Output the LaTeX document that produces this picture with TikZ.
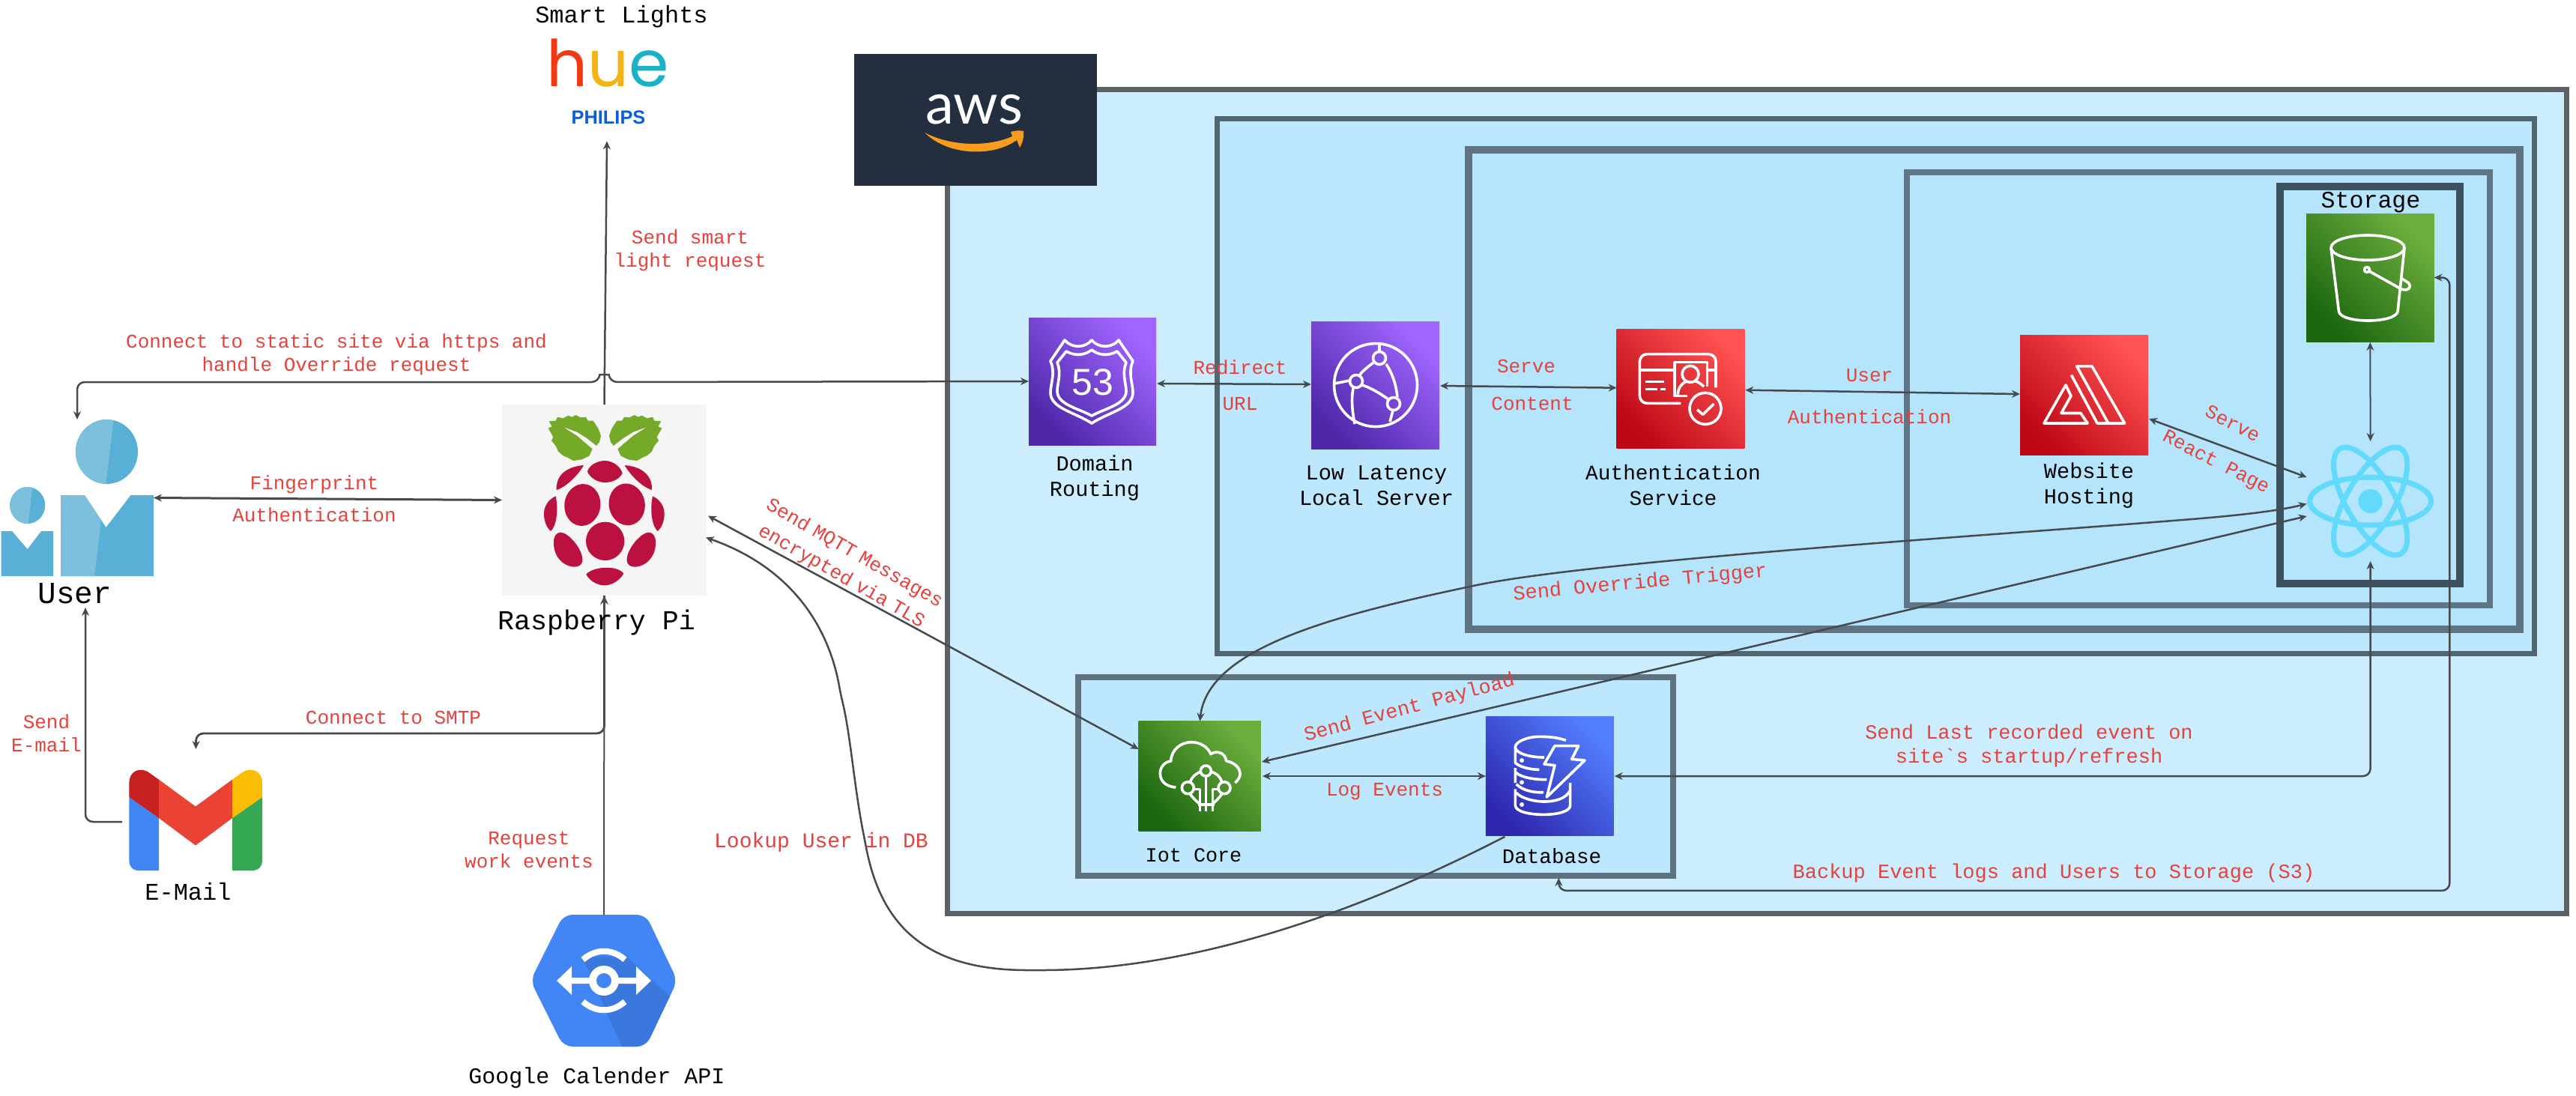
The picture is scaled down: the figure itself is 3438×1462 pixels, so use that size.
\documentclass[tikz,border=0pt]{standalone}
\usepackage{fontspec}
\setmainfont{Liberation Mono}
\newfontfamily\huefont{Poppins}
\newfontfamily\awsfont{Lato}
\newfontfamily\sansfont{Liberation Sans}
\usetikzlibrary{arrows.meta,calc}
\definecolor{labred}{HTML}{E5423C}
\definecolor{conncol}{HTML}{454A4E}
\definecolor{purpD}{HTML}{4D27A8}\definecolor{purpL}{HTML}{A166FF}
\definecolor{redD}{HTML}{BD0816}\definecolor{redL}{HTML}{FF5252}
\definecolor{grnD}{HTML}{1B660F}\definecolor{grnL}{HTML}{6CAE3E}
\definecolor{bluD}{HTML}{2E27AD}\definecolor{bluL}{HTML}{527FFF}
\definecolor{berry}{HTML}{BA1141}
\definecolor{leaf}{HTML}{75A928}
\definecolor{uLight}{HTML}{7DC0DE}\definecolor{uDark}{HTML}{58B0D7}
\definecolor{gBlue}{HTML}{4285F4}\definecolor{gDark}{HTML}{3B78DE}
\definecolor{c1}{HTML}{5C6166}\definecolor{c2}{HTML}{53666F}\definecolor{c3}{HTML}{5F7480}
\definecolor{c4}{HTML}{5F7687}\definecolor{c5}{HTML}{3E515E}\definecolor{c6}{HTML}{5F7280}
\definecolor{f1}{HTML}{CCEDFE}\definecolor{f2}{HTML}{BDE7FC}\definecolor{f3}{HTML}{B5E5FD}
\definecolor{awsbg}{HTML}{232F3E}
\definecolor{awsor}{HTML}{F79C1F}
\definecolor{reactc}{HTML}{61DAFB}
\definecolor{gmR}{HTML}{EA4335}\definecolor{gmD}{HTML}{C5221F}\definecolor{gmY}{HTML}{FBBC04}\definecolor{gmG}{HTML}{34A853}
\definecolor{philblue}{HTML}{0B5ED7}
\tikzset{
  sized/.style 2 args={minimum width=#1*0.5pt,minimum height=#2*0.5pt,inner sep=0pt,outer sep=0pt},
  zone/.style n args={3}{draw=#1,fill=#2,line width=#3*0.5pt},
  tile/.style 2 args={top color=#2,bottom color=#1,shading angle=-45},
  wl/.style={draw=white,line width=1.8pt,line join=round,fill=none},
  zc/.style={x=0.16667pt,y=-0.16667pt},
  redlab/.style={text=labred,font=\fontsize{13}{15.5}\selectfont,align=center,inner sep=0pt,yshift=-1pt},
  redbig/.style={redlab,font=\fontsize{#1}{16}\selectfont},
  blklab/.style={text=black,font=\fontsize{#1}{17}\selectfont,align=center,inner sep=0pt,yshift=-0.7pt},
  conn/.style={draw=conncol,line width=1.25pt,rounded corners=5pt,>={Stealth[length=5.5pt,width=5pt]}},
}
\begin{document}
\begin{tikzpicture}[x=0.5pt,y=-0.5pt]
\useasboundingbox (0,0) rectangle (3438,1462);
\fill[white] (0,0) rectangle (3438,1462);

% nested zones
\node[sized={2161}{1100},zone={c1}{f1}{7}] (awszone) at (2344.5,669) {};
\node[sized={1758}{714},zone={c2}{f2}{7}] (edgezone) at (2503,515) {};
\node[sized={1403}{640.5},zone={c3}{f3}{10}] (authzone) at (2661.5,519.75) {};
\node[sized={778}{578},zone={c4}{f3}{8}] (hostzone) at (2934,519) {};
\node[sized={240}{530},zone={c5}{f3}{10}] (storezone) at (3163,514) {};
\node[sized={794}{265},zone={c6}{f2}{8}] (iotzone) at (1836,1036.5) {};

% AWS logo
\node[sized={324}{176},fill=awsbg] (awslogo) at (1302,160) {};
\node[anchor=base,text=white,inner sep=0pt,font=\awsfont\fontsize{38}{38}\selectfont] (awsword) at (1300,165) {aws};
\fill[awsor] (1234,177) .. controls (1270,196) and (1320,196) .. (1351,182)
  -- (1349,176) .. controls (1356,174) and (1362,174) .. (1366,175)
  .. controls (1367,182) and (1365,190) .. (1361,197)
  -- (1357,187) .. controls (1325,210) and (1265,208) .. (1234,177) -- cycle;

% tiles
\node[sized={170}{170},tile={purpD}{purpL}] (r53) at (1458,509) {};
\node[sized={171}{170},tile={purpD}{purpL}] (cf) at (1835.5,514) {};
\node[sized={170.6}{159.3},tile={redD}{redL}] (cog) at (2243,518.7) {};
\node[sized={171}{160},tile={redD}{redL}] (amp) at (2781.5,527) {};
\node[sized={170.5}{171},tile={grnD}{grnL}] (s3) at (3163.3,370.5) {};
\node[sized={163.3}{146.6},tile={grnD}{grnL}] (iot) at (1601.3,1036) {};
\node[sized={170.7}{159.7},tile={bluD}{bluL}] (db) at (2068.3,1036) {};
\node[sized={170}{160}] (react) at (3163.6,669) {};
\node[sized={273}{255},fill=black!4] (pi) at (806.5,667.5) {};
\node[sized={204}{209}] (user) at (103,664.5) {};
\node[sized={179}{134}] (gmail) at (261.5,1095) {};
\node[sized={195}{176}] (gapi) at (806,1309) {};

% Route 53 icon
\draw[wl] (1421,454) .. controls (1430,465) and (1448,465) .. (1457,454) .. controls (1466,465) and (1484,465) .. (1493,454)
  -- (1512,482) .. controls (1505,498) and (1512,512) .. (1512,524) .. controls (1512,545) and (1480,550) .. (1457,565)
  .. controls (1434,550) and (1402,545) .. (1402,524) .. controls (1402,512) and (1409,498) .. (1402,482) -- cycle;
\draw[wl] (1423,469) .. controls (1436,476) and (1448,474) .. (1457,467) .. controls (1466,474) and (1478,476) .. (1491,469)
  -- (1503,484) .. controls (1497,498) and (1503,512) .. (1503,522) .. controls (1503,540) and (1475,545) .. (1457,555)
  .. controls (1439,545) and (1411,540) .. (1411,522) .. controls (1411,512) and (1417,498) .. (1411,484) -- cycle;
\node[text=white,inner sep=0pt,font=\sansfont\fontsize{25}{25}\selectfont] (r53num) at (1458,510) {53};

% CloudFront icon
\draw[wl] (1836,514) circle [radius=55.5];
\foreach \p in {(1841,478),(1810,509),(1860,539)} \draw[wl] \p circle [radius=8.5];
\draw[wl] (1833,484) .. controls (1825,490) and (1819,495) .. (1814,501);
\draw[wl] (1818,514) .. controls (1830,518) and (1840,524) .. (1853,533);
\draw[wl] (1850,486) .. controls (1858,498) and (1863,512) .. (1865,530);
\draw[wl] (1859,548) -- (1855,563);
\draw[wl] (1806,518) .. controls (1803,535) and (1805,550) .. (1808,566);
\draw[wl] (1781,512) -- (1801,508);
\draw[wl] (1841,469) -- (1841,459);

% Cognito icon
\begin{scope}[shift={(2150,430)},zc]
\draw[wl,rounded corners=5pt] (280,325) -- (115,325) -- (115,128) -- (420,128) -- (420,262);
\draw[wl] (118,192) -- (250,192) (390,192) -- (415,192);
\draw[wl] (305,295) -- (255,295) -- (255,160) -- (385,160) -- (385,258);
\draw[wl] (137,238) -- (212,238) (137,268) -- (185,268) (198,268) -- (218,268);
\draw[wl] (318,208) circle [radius=33];
\draw[wl] (268,290) .. controls (268,262) and (285,245) .. (300,238) (338,236) .. controls (350,240) and (362,248) .. (372,258);
\draw[wl] (378,346) circle [radius=63];
\draw[wl] (345,350) -- (368,370) -- (412,327);
\end{scope}

% Amplify icon
\draw[wl] (2771.7,488.8) -- (2792,488.8) -- (2835.6,565) -- (2813.8,565) -- cycle;
\draw[wl] (2764.4,500.5) -- (2799,565) -- (2813.8,565);
\draw[wl] (2757,514) -- (2728,565) -- (2786,565) -- (2777,551.5) -- (2751,551.5) -- (2764,528.5) -- cycle;

% S3 icon
\draw[wl] (3160,330.6) ellipse [x radius=49,y radius=16.6];
\draw[wl] (3111,331) -- (3121.5,416) .. controls (3125,432) and (3196,432) .. (3200,416) -- (3209,331);
\draw[wl] (3159,360) circle [radius=3.5];
\draw[wl] (3162,362) -- (3205,386) .. controls (3216,390) and (3220,380) .. (3212,376) -- (3204,371);

% IoT Core icon
\begin{scope}[shift={(1510,950)},zc]
\draw[wl] (178,303) .. controls (140,300) and (115,280) .. (115,247) .. controls (115,220) and (135,200) .. (158,198)
  .. controls (160,150) and (200,122) .. (240,122) .. controls (275,122) and (305,140) .. (318,170)
  .. controls (335,155) and (375,160) .. (380,197) .. controls (415,205) and (435,225) .. (435,250)
  .. controls (435,265) and (425,275) .. (415,285);
\draw[wl] (298,237) circle [radius=21] (226,305) circle [radius=24] (372,305) circle [radius=24];
\draw[wl] (280,240) .. controls (255,248) and (240,265) .. (235,282);
\draw[wl] (318,240) .. controls (345,248) and (358,265) .. (362,282);
\draw[wl] (232,325) .. controls (245,345) and (260,358) .. (272,368);
\draw[wl] (365,325) .. controls (352,345) and (338,358) .. (327,368);
\draw[wl] (298,258) -- (298,398);
\draw[wl] (248,310) -- (275,310) -- (275,398);
\draw[wl] (325,398) -- (325,310) -- (350,310);
\draw[wl] (268,372) -- (332,372);
\end{scope}

% DynamoDB icon
\begin{scope}[shift={(1975,950)},zc]
\draw[wl] (345,115) .. controls (310,102) and (270,100) .. (240,100) .. controls (190,100) and (142,120) .. (142,142) .. controls (142,165) and (195,183) .. (258,183);
\draw[wl] (142,142) -- (142,205) .. controls (165,225) and (210,232) .. (238,232);
\draw[wl] (142,225) -- (142,285) (146,245) .. controls (170,265) and (220,272) .. (268,272);
\draw[wl] (146,290) .. controls (170,315) and (215,325) .. (255,323);
\draw[wl] (142,310) -- (142,375) .. controls (142,400) and (200,412) .. (255,412) .. controls (310,412) and (362,400) .. (362,375) -- (362,285);
\draw[wl] (146,325) .. controls (170,350) and (225,360) .. (255,360) .. controls (310,360) and (345,345) .. (360,318);
\fill[white] (168,195) circle [radius=9] (168,283) circle [radius=9] (168,372) circle [radius=9];
\draw[wl] (300,137) -- (395,137) -- (368,190) -- (420,195) -- (268,342) -- (300,215) -- (258,210) -- cycle;
\end{scope}

% React icon
\begin{scope}[shift={(3163.6,669)}]
\foreach \a in {0,60,120} \draw[reactc,line width=3.5pt,rotate=\a] (0,0) ellipse [x radius=81,y radius=32];
\fill[reactc] (0,0) circle [radius=16];
\end{scope}

% Raspberry
\begin{scope}[shift={(670,540)},zc]
\def\leafpath{(188,67) -- (215,65) -- (222,50) -- (245,55) -- (265,44) -- (280,50) -- (295,42) -- (315,52) -- (335,50) -- (345,65) -- (365,65) -- (385,95) -- (396,125) -- (390,150) -- (378,165) -- (340,135) -- (300,110) -- (245,90) -- (300,125) -- (362,178) -- (350,205) -- (320,220) -- (285,225) -- (262,212) -- (245,205) -- (225,188) -- (215,165) -- (198,145) -- (205,130) -- (185,95) -- (200,88) -- cycle}
\fill[leaf] \leafpath;
\begin{scope}[shift={(825,0)},xscale=-1]\fill[leaf] \leafpath;\end{scope}
\fill[berry] (342,268) .. controls (350,240) and (385,225) .. (412,225) .. controls (445,225) and (475,250) .. (482,275)
  .. controls (470,300) and (440,312) .. (412,312) .. controls (385,312) and (352,295) .. (342,268) -- cycle;
\def\bUL{(218,342) .. controls (215,300) and (240,250) .. (327,243) .. controls (310,275) and (260,330) .. (218,342) -- cycle}
\def\bFL{(215,367) .. controls (185,380) and (165,410) .. (168,445) .. controls (170,470) and (180,495) .. (195,507) .. controls (215,490) and (228,430) .. (215,367) -- cycle}
\def\bLL{(235,512) .. controls (265,512) and (325,580) .. (322,625) .. controls (320,650) and (290,655) .. (265,645) .. controls (225,630) and (205,590) .. (207,550) .. controls (207,525) and (220,512) .. (235,512) -- cycle}
\fill[berry] \bUL; \fill[berry] \bFL; \fill[berry] \bLL;
\begin{scope}[shift={(818,0)},xscale=-1]\fill[berry] \bUL; \fill[berry] \bFL;\end{scope}
\begin{scope}[shift={(822,0)},xscale=-1]\fill[berry] \bLL;\end{scope}
\fill[berry,rotate around={-8:(322,402)}] (322,402) ellipse [x radius=72,y radius=84];
\fill[berry,rotate around={10:(500,400)}] (500,400) ellipse [x radius=72,y radius=84];
\fill[berry] (413,547) circle [radius=77];
\fill[berry] (337,680) .. controls (360,650) and (460,640) .. (487,677) .. controls (470,705) and (440,724) .. (410,724) .. controls (380,724) and (350,705) .. (337,680) -- cycle;
\end{scope}

% User icon
\fill[uDark] (142.5,603) ellipse [x radius=41.5,y radius=43];
\begin{scope}
\clip (142.5,603) ellipse [x radius=41.5,y radius=43];
\fill[uLight] (95,555) -- (152,555) -- (141,650) -- (95,650) -- cycle;
\end{scope}
\fill[uDark] (81,661) -- (113,661) -- (141.5,704) -- (174.5,661) -- (205,661) -- (205,769) -- (81,769) -- cycle;
\fill[uLight] (81,661) -- (113,661) -- (134,693) -- (134,704) -- (126,769) -- (81,769) -- cycle;
\fill[uDark] (36.7,674.5) ellipse [x radius=23.5,y radius=24.5];
\begin{scope}
\clip (36.7,674.5) ellipse [x radius=23.5,y radius=24.5];
\fill[uLight] (10,645) -- (44,645) -- (37,705) -- (10,705) -- cycle;
\end{scope}
\fill[uDark] (1.5,709) -- (16,709) -- (36.7,733) -- (55,709) -- (71,709) -- (71,769) -- (1.5,769) -- cycle;

% Gmail icon
\fill[gBlue] (172.4,1064) -- (212,1092) -- (212,1162) -- (186,1162) .. controls (177,1162) and (172.4,1157) .. (172.4,1148) -- cycle;
\fill[gmG] (350,1064) -- (310,1092) -- (310,1162) -- (336,1162) .. controls (345,1162) and (350,1157) .. (350,1148) -- cycle;
\fill[gmD] (172.4,1064) -- (172.4,1045) .. controls (172.4,1030) and (185,1024) .. (197,1030) -- (212,1040.6) -- (212,1092) -- cycle;
\fill[gmY] (350,1064) -- (350,1045) .. controls (350,1030) and (337,1024) .. (325,1030) -- (310,1040.6) -- (310,1092) -- cycle;
\fill[gmR] (212,1040.6) -- (261,1076.5) -- (310,1040.6) -- (310,1092) -- (261,1128.5) -- (212,1092) -- cycle;

% Google API icon
\fill[gBlue,rounded corners=6pt] (752,1221) -- (862,1221) -- (904,1309) -- (862,1397) -- (752,1397) -- (708,1309) -- cycle;
\begin{scope}
\clip[rounded corners=6pt] (752,1221) -- (862,1221) -- (904,1309) -- (862,1397) -- (752,1397) -- (708,1309) -- cycle;
\fill[gDark] (777,1277) -- (836,1277) -- (900,1335) -- (870,1400) -- (830,1397) -- cycle;
\end{scope}
\fill[white] (743,1309) -- (763,1290) -- (763,1305) -- (849,1305) -- (849,1290) -- (869,1309) -- (849,1328) -- (849,1313) -- (763,1313) -- (763,1328) -- cycle;
\fill[white] (806,1309) circle [radius=20];
\fill[gBlue] (806,1309) circle [radius=10];
\draw[white,line width=4pt] (778,1281) .. controls (795,1266) and (817,1266) .. (834,1281);
\draw[white,line width=4pt] (778,1337) .. controls (795,1352) and (817,1352) .. (834,1337);

% Hue logo
\node[anchor=base,inner sep=0pt,font=\huefont\fontsize{43}{43}\selectfont] (hueword) at (811,115)
  {\textcolor[HTML]{F23A12}{h}\textcolor[HTML]{F2B313}{u}\textcolor[HTML]{18B2C6}{e}};
\node[text=philblue,inner sep=0pt,font=\sansfont\bfseries\fontsize{12.7}{13}\selectfont] (philips) at (812,157) {PHILIPS};

% connectors
\draw[conn,->] (pi.north) -- ($(philips.south)+(-2,22)$);
\draw[conn,<->] (user.north) -- ++(0,-50) -- ($(pi.north)+(-7,-30)$) .. controls ($(pi.north)+(-6,-40)$) and ($(pi.north)+(6,-40)$) .. ($(pi.north)+(7,-30)$) -- (r53.west);
\draw[conn,<->,line width=1.5pt] (user.east) -- (pi.west);
\draw[conn,->] ($(gmail.west)+(-9,2)$) -| ($(user.south)+(11,42)$);
\draw[conn,->,line width=1.4pt] (pi.south) -- ++(0,184) -| ($(gmail.north)+(0,-28)$);
\draw[conn,->,line width=1pt,>={Stealth[length=6pt,width=5.5pt]},draw=black!70] (gapi.north) -- (pi.south);
\draw[conn,<->] ($(pi.east)+(2,21)$) -- ($(iot.west)+(0,-36)$);
\draw[conn,->] ($(db.south)+(-60,1)$) .. controls (1770,1240) and (1560,1295) .. (1381,1295)
  .. controls (1230,1295) and (1175,1230) .. (1154,1121)
  .. controls (1140,1050) and (1135,980) .. (1122,927)
  .. controls (1105,830) and (1050,755) .. ($(pi.east)+(-1,50)$);
\draw[conn,<->] ($(r53.east)+(1,3)$) -- ($(cf.west)+(0,-1)$);
\draw[conn,<->] ($(cf.east)+(1,1)$) -- ($(cog.west)+(0,-1)$);
\draw[conn,<->] ($(cog.east)+(1,2)$) -- ($(amp.west)+(0,-1)$);
\draw[conn,<->] ($(amp.east)+(1,32)$) -- ($(react.west)+(0,-32)$);
\draw[conn,<->,line width=1pt] ($(s3.south)+(0,1)$) -- (react.north);
\draw[conn,<->] (iot.north) .. controls (1612,870) and (1760,826) .. (1957,784)
  .. controls (2120,749) and (2650,715) .. (2900,695)
  .. controls (2990,688) and (3040,682) .. ($(react.west)+(0,3.5)$);
\draw[conn,<->] ($(iot.east)+(1,-19)$) -- ($(react.west)+(0,20)$);
\draw[conn,<->] ($(iot.east)+(2,0)$) -- (db.west);
\draw[conn,<->] ($(db.east)+(1,0)$) -| (react.south);
\draw[conn,<->] ($(db.south)+(12,56)$) -- ++(0,17) -- ++(1189,0) |- (s3.east);

% black labels
\node[blklab=16] (tlights) at (829.5,21) {Smart Lights};
\node[blklab=20.5] (tuser) at (100,791) {User};
\node[blklab=18.3] (tpi) at (796,830) {Raspberry Pi};
\node[blklab=16] (tmail) at (251,1189) {E-Mail};
\node[blklab=15] (tgapi) at (796.5,1437) {Google Calender API};
\node[blklab=14.3] (tr53) at (1461,637) {Domain\\Routing};
\node[blklab=14.3] (tcf) at (1837,647) {Low Latency\\Local Server};
\node[blklab=13.9] (tcog) at (2233,646) {Authentication\\Service};
\node[blklab=14.3] (tamp) at (2788,646.5) {Website\\Hosting};
\node[blklab=15.8] (ts3) at (3164,269) {Storage};
\node[blklab=13.4] (tiot) at (1593,1140) {Iot Core};
\node[blklab=13.8] (tdb) at (2071,1141) {Database};

% red labels
\node[redlab] (l1) at (921,332) {Send smart\\light request};
\node[redlab] (l2) at (449,471.5) {Connect to static site via https and\\handle Override request};
\node[redlab] (l3) at (419.5,645) {Fingerprint};
\node[redlab] (l4) at (419.5,685) {Authentication};
\node[redlab] (l5) at (62,976.5) {Send\\E-mail};
\node[redlab] (l6) at (525,956) {Connect to SMTP};
\node[redlab] (l7) at (706,1132) {Request\\work events};
\node[redbig=14] (l8) at (1096,1122) {Lookup User in DB};
\node[redbig=13,rotate=-29.8,text width=320pt] (l9) at (1131.5,752.5) {Send MQTT Messages\\[1.5pt]encrypted via TLS};
\node[redlab] (l11) at (1655,488) {Redirect};
\node[redlab] (l12) at (1655,537) {URL};
\node[redlab] (l13) at (2037,487) {Serve};
\node[redlab] (l14) at (2045,537) {Content};
\node[redlab] (l15) at (2495,499) {User};
\node[redlab] (l16) at (2495,554) {Authentication};
\node[redlab,rotate=-27] (l17) at (2980,563) {Serve};
\node[redlab,rotate=-27] (l18) at (2957,616) {React Page};
\node[redbig=13.5,rotate=5.3] (l19) at (2189,776.5) {Send Override Trigger};
\node[redbig=13.4,rotate=15] (l20) at (1881,943.5) {Send Event Payload};
\node[redlab] (l21) at (1848,1055) {Log Events};
\node[redbig=13.5] (l22) at (2708,994) {Send Last recorded event on\\site\textasciigrave s startup/refresh\hspace{8pt}};
\node[redbig=13.5] (l23) at (2741,1164) {Backup Event logs and Users to Storage (S3)};
\end{tikzpicture}
\end{document}
